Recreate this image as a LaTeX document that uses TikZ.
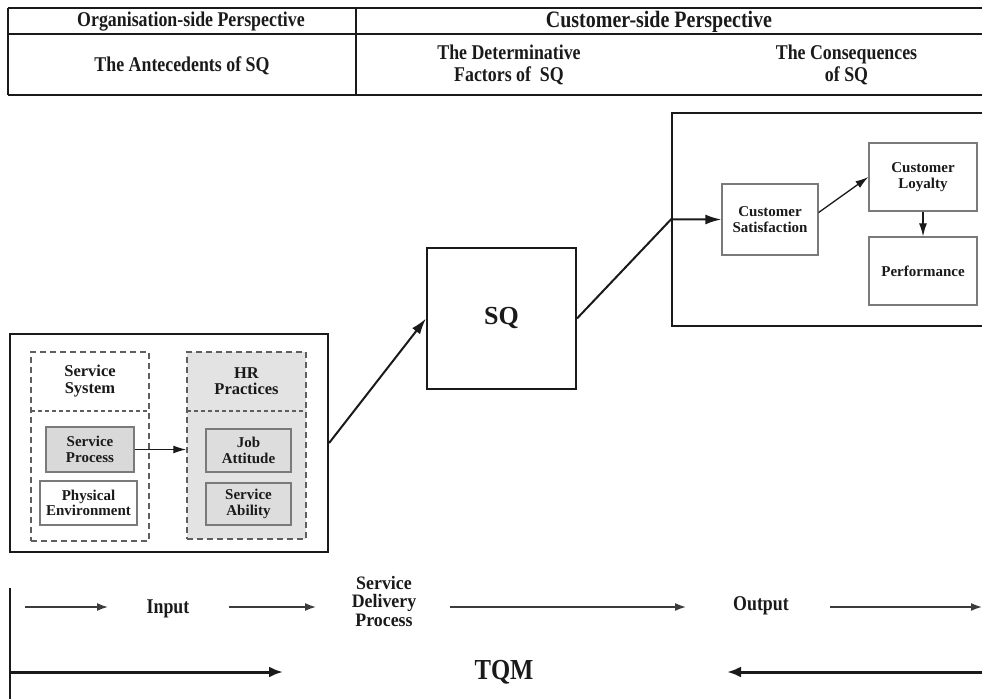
\documentclass[tikz,border=0pt]{standalone}
\usepackage{fontspec}
\setmainfont{Liberation Serif}
\newfontfamily\condfont[FakeStretch=0.85]{Liberation Serif}
\newfontfamily\semicondfont[FakeStretch=0.94]{Liberation Serif}
\usetikzlibrary{arrows.meta}
\definecolor{ink}{HTML}{1A1A1A}
\definecolor{boxline}{HTML}{7A7A7A}
\definecolor{dashline}{HTML}{5E5E5E}
\begin{document}
\begin{tikzpicture}[x=1pt,y=-1pt,
  every node/.style={text=ink, inner sep=0pt},
  tabline/.style={draw=ink, line width=1.8pt},
  headtext/.style={font=\condfont\bfseries\fontsize{21}{22}\selectfont, align=center},
  boxtext/.style={font=\bfseries\fontsize{15}{15.5}\selectfont, align=center},
  titletext/.style={font=\bfseries\fontsize{16.5}{16.5}\selectfont, align=center},
  flowtext/.style={font=\condfont\bfseries\fontsize{21}{18.5}\selectfont, align=center},
  frame/.style={draw=ink, line width=2.2pt},
  dashbox/.style={draw=dashline, line width=1.5pt, dash pattern=on 6pt off 4pt},
  divline/.style={draw=dashline, line width=1.1pt, dash pattern=on 4pt off 3pt},
  inbox/.style={draw=boxline, line width=1.3pt, boxtext},
  arr/.style={draw=ink, line width=2pt, -{Latex[length=16pt,width=10pt]}},
  thinarr/.style={draw=ink, line width=1.3pt, -{Latex[length=13pt,width=8pt]}},
  flowarr/.style={draw=ink!85, line width=1.6pt, -{Latex[length=11pt,width=8pt]}},
  bigarr/.style={draw=ink, line width=3pt, -{Latex[length=14pt,width=11pt]}}]
\useasboundingbox (0,0) rectangle (982,700);

% ---- header table ----
\draw[tabline] (8,8) -- (982,8);
\draw[tabline] (8,34) -- (982,34);
\draw[tabline] (8,95) -- (982,95);
\draw[tabline] (8,8) -- (8,95);
\draw[tabline] (356,8) -- (356,95);
\node[headtext] (orgp) at (191,22) {Organisation-side Perspective};
\node[headtext, font=\condfont\bfseries\fontsize{23.5}{24}\selectfont] (cusp) at (659,22) {Customer-side Perspective};
\node[headtext] (ante) at (182,66) {The Antecedents of SQ};
\node[headtext] (dete) at (509,65) {The Determinative\\Factors of \ SQ};
\node[headtext] (cons) at (846.5,65) {The Consequences\\of SQ};

% ---- organisation side ----
\node[frame, minimum width=318, minimum height=218] (org) at (169,443) {};
\node[dashbox, fill=white, minimum width=118, minimum height=189] (sys) at (90,446.5) {};
\draw[divline] (31,411) -- (149,411);
\node[titletext] (systitle) at (90,381) {Service\\System};
\node[inbox, fill=gray!30, minimum width=88, minimum height=45] (sp) at (90,449.5) {Service\\Process};
\node[inbox, fill=white, minimum width=97, minimum height=44] (pe) at (88.5,503) {Physical\\Environment};

\node[dashbox, fill=gray!22, minimum width=119, minimum height=187] (hr) at (246.5,445.5) {};
\draw[divline] (187,411) -- (306,411);
\node[titletext] (hrtitle) at (246.5,381) {HR\\Practices};
\node[inbox, fill=gray!27, minimum width=85, minimum height=43] (ja) at (248.5,450.5) {Job\\Attitude};
\node[inbox, fill=gray!27, minimum width=85, minimum height=42] (sa) at (248.5,504) {Service\\Ability};

\draw[thinarr] (sp.east) -- (sp.east -| hr.west);

% ---- service quality ----
\node[frame, line width=2pt, minimum width=149, minimum height=141,
      font=\bfseries\fontsize{26}{26}\selectfont] (sq) at (501.5,318.5) {SQ};
\draw[arr] (org.east) -- (sq.west);

% ---- consequences ----
\node[frame, minimum width=313, minimum height=213] (cbox) at (828.5,219.5) {};
\node[inbox, fill=white, minimum width=96, minimum height=71] (cs) at (770,219.5) {Customer\\Satisfaction};
\node[inbox, fill=white, minimum width=108, minimum height=68] (cl) at (923,177) {Customer\\Loyalty};
\node[inbox, fill=white, minimum width=108, minimum height=68] (pf) at (923,271) {Performance};
\draw[arr] (sq.east) -- (cbox.west) -- (cs.west);
\draw[thinarr] (cs.east) ++(0,-7) coordinate (csout) -- (cl.west);
\draw[thinarr] (cl.south) -- (pf.north);

% ---- TQM flow ----
\draw[ink, line width=1.6pt] (10,588) -- (10,699);
\node[flowtext] (inp) at (168,609) {Input};
\node[flowtext, font=\semicondfont\bfseries\fontsize{19}{18.5}\selectfont] (sdp) at (384,601) {Service\\Delivery\\Process};
\node[flowtext] (outp) at (761,606) {Output};
\node[flowtext, font=\condfont\bfseries\fontsize{29}{29}\selectfont] (tqm) at (504,672) {TQM};
\coordinate (f0) at (25,607);
\coordinate (f1) at (108,607);
\coordinate (f2) at (229,607);
\coordinate (f3) at (316,607);
\coordinate (f4) at (450,607);
\coordinate (f5) at (686,607);
\coordinate (f6) at (830,607);
\coordinate (f7) at (982,607);
\draw[flowarr] (f0) -- (f1);
\draw[flowarr] (f2) -- (f3);
\draw[flowarr] (f4) -- (f5);
\draw[flowarr] (f6) -- (f7);
\coordinate (t0) at (10,672);
\coordinate (t1) at (283,672);
\coordinate (t2) at (982,672);
\coordinate (t3) at (727,672);
\draw[bigarr] (t0) -- (t1);
\draw[bigarr] (t2) -- (t3);
\end{tikzpicture}
\end{document}
